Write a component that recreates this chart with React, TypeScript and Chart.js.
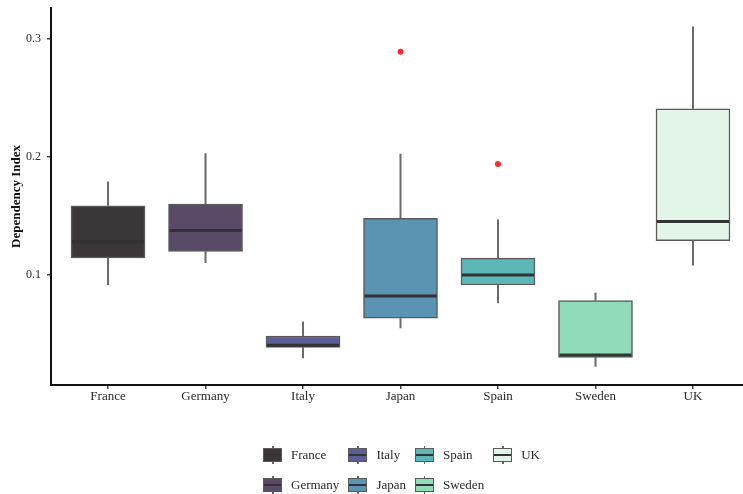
import React, { useEffect, useRef } from "react";
import { Chart, registerables } from "chart.js";
Chart.register(...registerables);

const countries = ["France", "Germany", "Italy", "Japan", "Spain", "Sweden", "UK"];
const whiskerLow = [0.0915, 0.11, 0.0294, 0.0548, 0.076, 0.0223, 0.1079];
const q1 = [0.1144, 0.12, 0.0387, 0.0633, 0.0915, 0.0302, 0.1291];
const median = [0.128, 0.1376, 0.0404, 0.0822, 0.1, 0.0322, 0.1452];
const q3 = [0.1585, 0.16, 0.0483, 0.148, 0.1142, 0.0782, 0.2407];
const whiskerHigh = [0.179, 0.203, 0.0605, 0.2025, 0.147, 0.085, 0.3104];
const outlierCountry = ["Japan", "Spain"];
const outlierValue = [0.289, 0.194];
const boxColors = ["#3b3638", "#594a68", "#5d5e97", "#5b93b3", "#5bb8b7", "#90dcb9", "#e3f5e9"];
const yTicks = [0.1, 0.2, 0.3];
const legendOrder = ["France", "Germany", "Italy", "Japan", "Spain", "Sweden", "UK"];

const FONT = "'Liberation Serif', 'DejaVu Serif', serif";

const boxParts = {
  id: "boxParts",
  beforeDatasetsDraw(chart: any) {
    const { ctx, scales } = chart;
    const x = scales.x, y = scales.y;
    ctx.save();
    ctx.strokeStyle = "#6a6a6a";
    ctx.lineWidth = 2;
    countries.forEach((_, i) => {
      const px = x.getPixelForValue(i + 1);
      ctx.beginPath();
      ctx.moveTo(px, y.getPixelForValue(whiskerLow[i]));
      ctx.lineTo(px, y.getPixelForValue(q1[i]));
      ctx.moveTo(px, y.getPixelForValue(q3[i]));
      ctx.lineTo(px, y.getPixelForValue(whiskerHigh[i]));
      ctx.stroke();
    });
    ctx.restore();
  },
  afterDatasetDraw(chart: any, args: any) {
    if (args.index !== 0) return;
    const { ctx, scales } = chart;
    const y = scales.y;
    const meta = chart.getDatasetMeta(0);
    ctx.save();
    ctx.strokeStyle = "#333333";
    ctx.lineWidth = 3;
    meta.data.forEach((bar: any, i: number) => {
      const py = y.getPixelForValue(median[i]);
      ctx.beginPath();
      ctx.moveTo(bar.x - bar.width / 2 + 1, py);
      ctx.lineTo(bar.x + bar.width / 2 - 1, py);
      ctx.stroke();
    });
    ctx.restore();
  },
};

function LegendIcon({ color }: { color: string }) {
  return (
    <div style={{ position: "relative", width: 19, height: 18, marginRight: 9 }}>
      <div style={{ position: "absolute", left: 9, top: 0, width: 1.5, height: 18, background: "#666" }} />
      <div
        style={{
          position: "absolute",
          left: 0,
          top: 2,
          width: 19,
          height: 14,
          boxSizing: "border-box",
          background: color,
          border: "1.5px solid #5a5a5a",
        }}
      />
      <div style={{ position: "absolute", left: 1, top: 8, width: 17, height: 2, background: "#333" }} />
    </div>
  );
}

export default function App() {
  const ref = useRef<HTMLCanvasElement>(null);
  useEffect(() => {
    if (!ref.current) return;
    const chart = new Chart(ref.current, {
      type: "bar",
      data: {
        datasets: [
          {
            type: "bar",
            data: countries.map((_, i) => ({ x: i + 1, y: [q1[i], q3[i]] })) as any,
            backgroundColor: boxColors,
            borderColor: "#5a5a5a",
            borderWidth: 1.5,
            borderSkipped: false,
            barThickness: 74,
          } as any,
          {
            type: "scatter",
            data: outlierCountry.map((c, i) => ({ x: countries.indexOf(c) + 1, y: outlierValue[i] })),
            backgroundColor: "#ff2b2b",
            borderColor: "#ff2b2b",
            pointRadius: 3,
            pointBorderWidth: 0,
          } as any,
        ],
      },
      options: {
        responsive: false,
        animation: false,
        layout: { padding: { top: 8, left: 0, right: 0, bottom: 0 } },
        plugins: { legend: { display: false }, tooltip: { enabled: false } },
        scales: {
          x: {
            type: "linear",
            offset: false,
            min: 0.415,
            max: 7.513,
            afterBuildTicks: (s: any) => {
              s.ticks = countries.map((_, i) => ({ value: i + 1 }));
            },
            afterFit: (s: any) => {
              s.height = 109;
              s.paddingLeft = 0;
              s.paddingRight = 0;
            },
            ticks: {
              autoSkip: false,
              maxRotation: 0,
              callback: (v: any) => countries[Number(v) - 1],
              font: { family: FONT, size: 13 },
              color: "#2a2a2a",
              padding: 0,
            },
            grid: { display: true, offset: false, drawOnChartArea: false, drawTicks: true, tickLength: 4, color: "#444", lineWidth: 1.5 },
            border: { display: true, color: "#111", width: 2 },
          },
          y: {
            type: "linear",
            min: 0.0068,
            max: 0.326,
            afterBuildTicks: (s: any) => {
              s.ticks = yTicks.map((v) => ({ value: v }));
            },
            afterFit: (s: any) => {
              s.width = 51;
              s.paddingTop = 0;
              s.paddingBottom = 0;
            },
            ticks: {
              callback: (v: any) => Number(v).toFixed(1),
              font: { family: FONT, size: 12 },
              color: "#2a2a2a",
              padding: 6,
            },
            title: {
              display: true,
              text: "Dependency Index",
              font: { family: FONT, size: 13, weight: "bold" },
              color: "#111",
              padding: { top: 9, bottom: 0 },
            },
            grid: { display: true, drawOnChartArea: false, drawTicks: true, tickLength: 4, color: "#444", lineWidth: 1.5 },
            border: { display: true, color: "#111", width: 2 },
          },
        },
      },
      plugins: [boxParts],
    });
    return () => chart.destroy();
  }, []);

  return (
    <div style={{ position: "absolute", left: 0, top: 0, width: 743, height: 494, background: "#fff", overflow: "hidden" }}>
      <canvas ref={ref} width={747} height={494} style={{ position: "absolute", left: 0, top: 0 }} />
      <div
        style={{
          position: "absolute",
          left: 263,
          top: 440,
          display: "grid",
          gridTemplateRows: "repeat(2, 30px)",
          gridAutoFlow: "column",
          columnGap: 9,
          fontFamily: FONT,
          fontSize: 13,
          color: "#2a2a2a",
        }}
      >
        {legendOrder.map((c) => (
          <div key={c} style={{ display: "flex", alignItems: "center" }}>
            <LegendIcon color={boxColors[countries.indexOf(c)]} />
            <span>{c}</span>
          </div>
        ))}
      </div>
    </div>
  );
}
